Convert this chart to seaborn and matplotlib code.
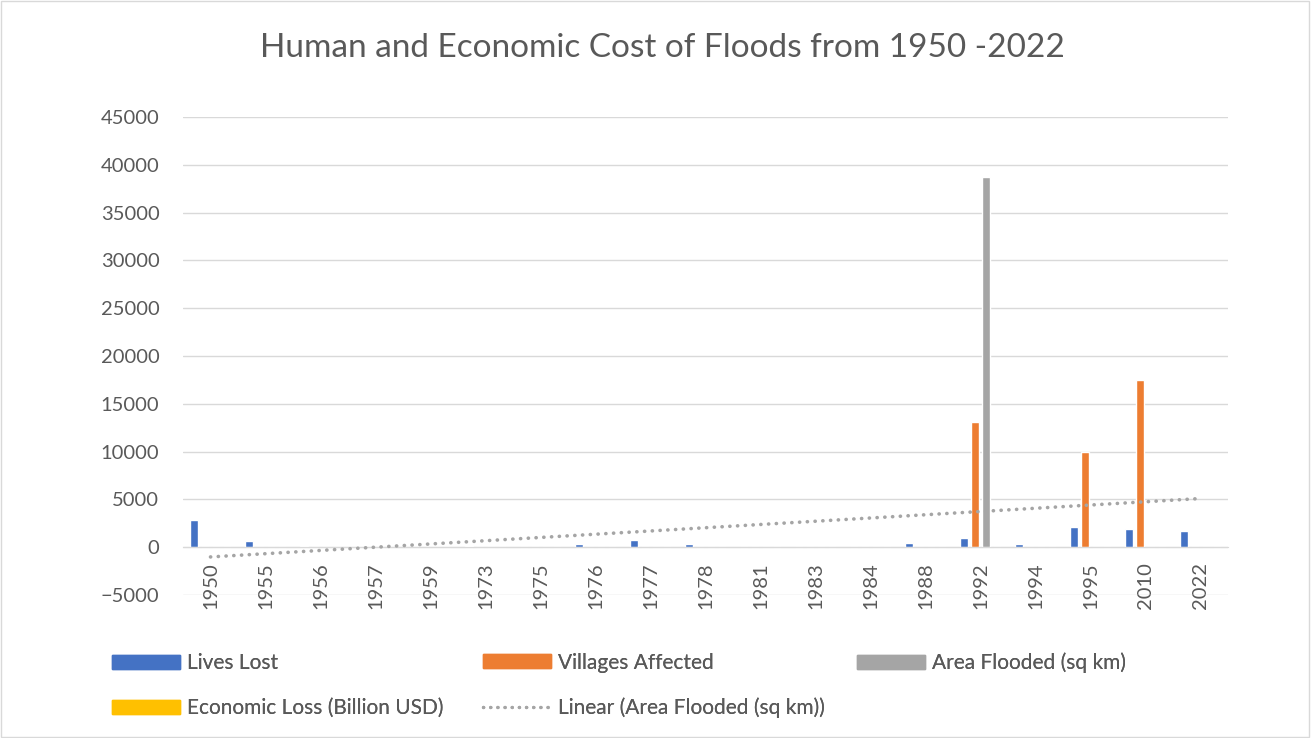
import pandas as pd
import numpy as np
import matplotlib
matplotlib.use("Agg")
import matplotlib.pyplot as plt
from matplotlib.patches import Patch, Rectangle
from matplotlib.lines import Line2D
import seaborn as sns

# data
years = ['1950', '1955', '1956', '1957', '1959', '1973', '1975', '1976', '1977', '1978',
         '1981', '1983', '1984', '1988', '1992', '1994', '1995', '2010', '2022']
lives_lost = [2850, 650, 120, 0, 0, 100, 60, 380, 800, 340,
              0, 0, 0, 450, 1000, 350, 2100, 1950, 1700]
villages_affected = [0, 0, 0, 0, 0, 0, 0, 0, 0, 0,
                     0, 0, 0, 0, 13100, 0, 10000, 17500, 0]
area_flooded = [0, 0, 0, 0, 0, 0, 0, 0, 0, 0,
                0, 0, 0, 0, 38700, 0, 0, 0, 0]
economic_loss = [0, 0, 0, 0, 0, 0, 0, 0, 0, 0,
                 0, 0, 0, 0, 2, 0, 1, 16, 30]

series = ['Lives Lost', 'Villages Affected', 'Area Flooded (sq km)', 'Economic Loss (Billion USD)']
colors = ['#4472C4', '#ED7D31', '#A5A5A5', '#FFC000']

df = pd.DataFrame({
    'year': years * 4,
    'series': np.repeat(series, len(years)),
    'value': lives_lost + villages_affected + area_flooded + economic_loss,
})

sns.set_style('white')
plt.rcParams['font.family'] = ['Lato', 'DejaVu Sans']
grey = '#595959'

fig = plt.figure(figsize=(13.12, 7.38), dpi=100)
ax = fig.add_axes([183 / 1312, 1 - 595 / 738, (1228 - 183) / 1312, (595 - 117) / 738])

sns.barplot(data=df, x='year', y='value', hue='series', order=years, hue_order=series,
            palette=colors, width=0.78, gap=0.25, ax=ax, legend=False, saturation=1)

# linear trendline of area flooded
xs = np.arange(len(years))
k, b = np.polyfit(xs, area_flooded, 1)
dotted = (0, (0.05, 2.1))
ax.plot(xs, k * xs + b, color='#A5A5A5', lw=2.6, linestyle=dotted,
        dash_capstyle='round', zorder=3)

ax.set_ylim(-5000, 45000)
ax.set_xlim(-0.5, len(years) - 0.5)
ax.set_yticks(range(-5000, 45001, 5000))
ax.yaxis.grid(True, color='#d9d9d9', lw=1)
ax.set_axisbelow(True)
for s in ['top', 'right', 'left']:
    ax.spines[s].set_visible(False)
ax.spines['bottom'].set_position(('data', 0))
ax.spines['bottom'].set_color('#d9d9d9')
ax.tick_params(axis='both', length=0, colors=grey, labelsize=14.5)
ax.tick_params(axis='y', pad=17)
ax.tick_params(axis='x', pad=11, labelrotation=90)
ax.set_xlabel('')
ax.set_ylabel('')

fig.text(0.505, 0.935, 'Human and Economic Cost of Floods from 1950 -2022',
         ha='center', va='center', fontsize=24, color=grey)

# legend: three columns placed like the original
h = [Patch(color=c) for c in colors]
trend = Line2D([], [], color='#A5A5A5', lw=2.4, linestyle=dotted, dash_capstyle='round')
leg_kw = dict(frameon=False, fontsize=15, labelcolor=grey, handlelength=3.27,
              handleheight=0.67, handletextpad=0.34, labelspacing=1.2,
              borderpad=0, borderaxespad=0, loc='center left')
columns = [
    ([h[0], h[3]], [series[0], series[3]], 112, 685.5),
    ([h[1], trend], [series[1], 'Linear (Area Flooded (sq km))'], 483, 685.5),
    ([h[2]], [series[2]], 857, 663),
]
for hh, ll, x0, y0 in columns:
    lg = fig.legend(hh, ll, bbox_to_anchor=(x0 / 1312, 1 - y0 / 738), **leg_kw)
    fig.add_artist(lg)

fig.patches.append(Rectangle((0.001, 0.001), 0.997, 0.997, transform=fig.transFigure,
                             fill=False, edgecolor='#d9d9d9', lw=1))

fig.savefig('out.png', dpi=100)
